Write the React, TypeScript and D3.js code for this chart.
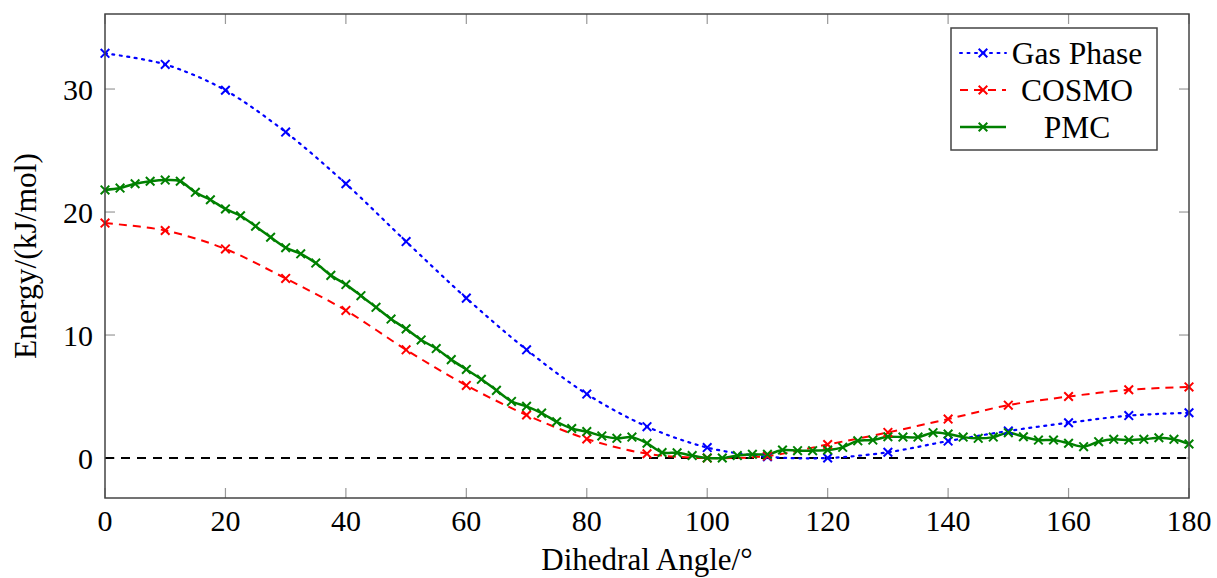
import React from "react";
import * as d3 from "d3";

const gasAngles = [0, 10, 20, 30, 40, 50, 60, 70, 80, 90, 100, 110, 120, 130, 140, 150, 160, 170, 180];
const gasPhase = [32.9, 32.0, 29.9, 26.5, 22.3, 17.6, 13.0, 8.8, 5.2, 2.55, 0.85, 0.1, 0.0, 0.47, 1.38, 2.2, 2.87, 3.45, 3.68];
const cosmo = [19.1, 18.5, 17.0, 14.6, 12.0, 8.8, 5.9, 3.5, 1.55, 0.35, 0.0, 0.16, 1.1, 2.08, 3.17, 4.3, 5.0, 5.55, 5.78];

const pmcAngles = [
  0, 2.5, 5, 7.5, 10, 12.5, 15, 17.5, 20, 22.5, 25, 27.5, 30, 32.5, 35, 37.5, 40, 42.5, 45, 47.5,
  50, 52.5, 55, 57.5, 60, 62.5, 65, 67.5, 70, 72.5, 75, 77.5, 80, 82.5, 85, 87.5, 90, 92.5, 95, 97.5,
  100, 102.5, 105, 107.5, 110, 112.5, 115, 117.5, 120, 122.5, 125, 127.5, 130, 132.5, 135, 137.5, 140, 142.5, 145, 147.5,
  150, 152.5, 155, 157.5, 160, 162.5, 165, 167.5, 170, 172.5, 175, 177.5, 180,
];
const pmc = [
  21.8, 21.95, 22.3, 22.5, 22.6, 22.5, 21.6, 21.0, 20.25, 19.7, 18.85, 17.95, 17.1, 16.6, 15.85, 14.85, 14.1, 13.2, 12.25, 11.3,
  10.5, 9.6, 8.9, 8.0, 7.2, 6.4, 5.5, 4.6, 4.2, 3.65, 2.95, 2.4, 2.15, 1.8, 1.6, 1.7, 1.2, 0.45, 0.43, 0.2,
  0.0, 0.0, 0.2, 0.3, 0.3, 0.65, 0.6, 0.6, 0.65, 0.87, 1.4, 1.46, 1.73, 1.7, 1.7, 2.06, 1.95, 1.7, 1.6, 1.7,
  2.06, 1.73, 1.46, 1.46, 1.2, 0.92, 1.33, 1.52, 1.46, 1.52, 1.65, 1.52, 1.14,
];

const xTicks = [0, 20, 40, 60, 80, 100, 120, 140, 160, 180];
const yTicks = [0, 10, 20, 30];

const legendItems = [
  { label: "Gas Phase", color: "#0000ff", dash: "2 5.5", cap: "round" },
  { label: "COSMO", color: "#ff0000", dash: "8 6", cap: "butt" },
  { label: "PMC", color: "#008000", dash: "none", cap: "butt" },
];

const FONT = "'Liberation Serif', 'Times New Roman', serif";

function Cross({ x, y, color }: { x: number; y: number; color: string }) {
  const s = 4.3;
  return (
    <path
      d={`M${x - s},${y - s}L${x + s},${y + s}M${x - s},${y + s}L${x + s},${y - s}`}
      stroke={color}
      strokeWidth={2}
      fill="none"
    />
  );
}

export default function App() {
  const W = 1217;
  const H = 578;
  const left = 105;
  const right = 1189;
  const top = 14;
  const bottom = 498;

  const x = d3.scaleLinear().domain([0, 180]).range([left, right]);
  const y = d3.scaleLinear().domain([-3.25, 36.1]).range([bottom, top]);

  const line = d3
    .line<[number, number]>()
    .x((d) => x(d[0]))
    .y((d) => y(d[1]))
    .curve(d3.curveCardinal.tension(0.1));

  const gasPts: [number, number][] = gasAngles.map((a, i) => [a, gasPhase[i]]);
  const cosmoPts: [number, number][] = gasAngles.map((a, i) => [a, cosmo[i]]);
  const pmcPts: [number, number][] = pmcAngles.map((a, i) => [a, pmc[i]]);

  const series = [
    { pts: gasPts, ...legendItems[0], width: 2.2 },
    { pts: cosmoPts, ...legendItems[1], width: 2 },
    { pts: pmcPts, ...legendItems[2], width: 2.5 },
  ];

  const lgX = 951;
  const lgY = 28;
  const lgW = 206;
  const lgH = 122;
  const rowY = [53, 90, 127];

  return (
    <svg width={W} height={H} style={{ display: "block", position: "absolute", left: 0, top: 0 }}>
      <rect x={0} y={0} width={W} height={H} fill="#fff" />
      <defs>
        <clipPath id="plotclip">
          <rect x={left} y={top} width={right - left} height={bottom - top} />
        </clipPath>
      </defs>

      {/* ticks */}
      {xTicks.map((t) => (
        <g key={"xt" + t}>
          <line x1={x(t)} x2={x(t)} y1={bottom} y2={bottom - 10} stroke="#999" strokeWidth={1.2} />
          <line x1={x(t)} x2={x(t)} y1={top} y2={top + 10} stroke="#999" strokeWidth={1.2} />
          <text
            x={x(t)}
            y={531}
            textAnchor="middle"
            fontFamily={FONT}
            fontSize={30}
            fill="#000"
          >
            {t}
          </text>
        </g>
      ))}
      {yTicks.map((t) => (
        <g key={"yt" + t}>
          <line x1={left} x2={left + 10} y1={y(t)} y2={y(t)} stroke="#999" strokeWidth={1.2} />
          <line x1={right} x2={right - 10} y1={y(t)} y2={y(t)} stroke="#999" strokeWidth={1.2} />
          <text
            x={93}
            y={y(t) + 10.5}
            textAnchor="end"
            fontFamily={FONT}
            fontSize={30}
            fill="#000"
          >
            {t}
          </text>
        </g>
      ))}

      {/* zero line */}
      <line
        x1={x(0)}
        x2={x(180)}
        y1={y(0)}
        y2={y(0)}
        stroke="#000"
        strokeWidth={2}
        strokeDasharray="9 7"
      />

      <g clipPath="url(#plotclip)">
        {series.map((s) => (
          <path
            key={s.label}
            d={line(s.pts) || ""}
            fill="none"
            stroke={s.color}
            strokeWidth={s.width}
            strokeDasharray={s.dash}
            strokeLinecap={s.cap as any}
          />
        ))}
      </g>
      {series.map((s) =>
        s.pts.map((p, i) => <Cross key={s.label + i} x={x(p[0])} y={y(p[1])} color={s.color} />)
      )}

      {/* frame */}
      <rect
        x={left}
        y={top}
        width={right - left}
        height={bottom - top}
        fill="none"
        stroke="#444"
        strokeWidth={1.5}
      />

      {/* legend */}
      <rect x={lgX} y={lgY} width={lgW} height={lgH} fill="#fff" stroke="#444" strokeWidth={1.5} />
      {legendItems.map((it, i) => (
        <g key={it.label}>
          <line
            x1={960}
            x2={1006}
            y1={rowY[i]}
            y2={rowY[i]}
            stroke={it.color}
            strokeWidth={it.dash === "none" ? 2.5 : 2}
            strokeDasharray={it.dash}
            strokeLinecap={it.cap as any}
          />
          <Cross x={983} y={rowY[i]} color={it.color} />
          <text
            x={1077}
            y={rowY[i] + 10.5}
            textAnchor="middle"
            fontFamily={FONT}
            fontSize={31.5}
            fill="#000"
          >
            {it.label}
          </text>
        </g>
      ))}

      {/* axis titles */}
      <text x={(left + right) / 2 + 0} y={570} textAnchor="middle" fontFamily={FONT} fontSize={31} fill="#000">
        Dihedral Angle/°
      </text>
      <text
        transform={`translate(36, ${(top + bottom) / 2}) rotate(-90)`}
        textAnchor="middle"
        fontFamily={FONT}
        fontSize={31.5}
        fill="#000"
      >
        Energy/(kJ/mol)
      </text>
    </svg>
  );
}
